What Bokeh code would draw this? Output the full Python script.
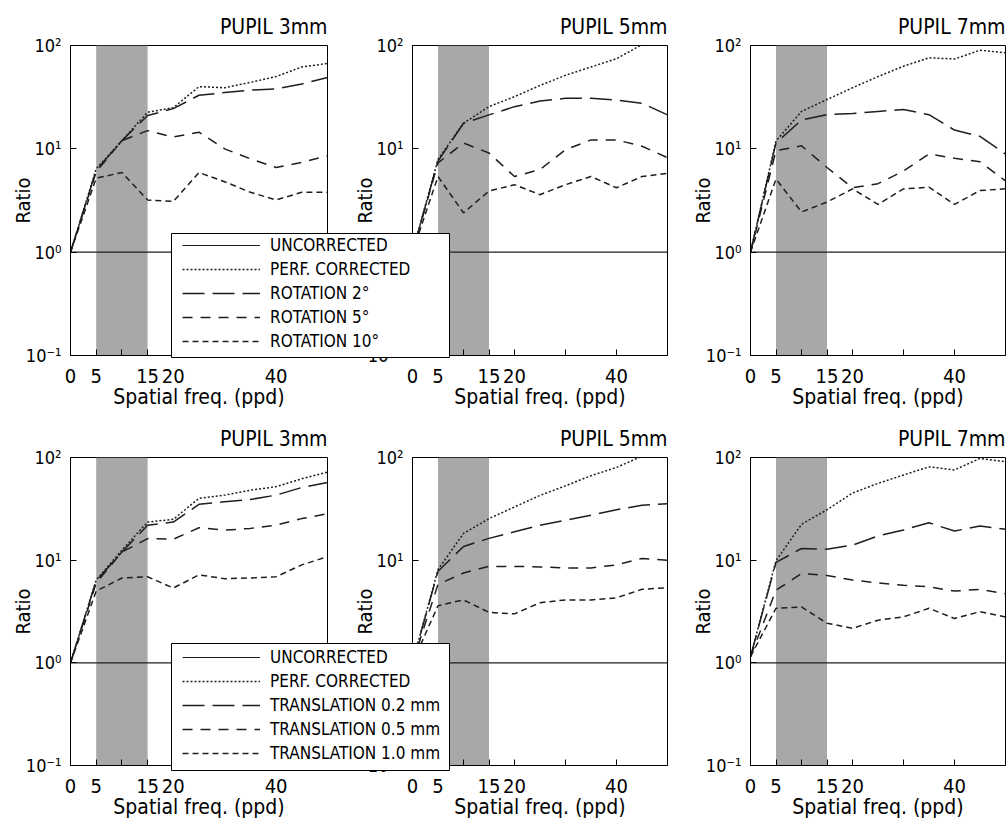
from bokeh.plotting import figure
from bokeh.models import Range1d, FixedTicker, BoxAnnotation, Legend, LegendItem
from bokeh.layouts import row, column
from bokeh.embed import file_html
from bokeh.resources import INLINE

# ---------------- data ----------------
freq = [0, 5, 10, 15, 20, 25, 30, 35, 40, 45, 50]
uncorr_freq = [0, 50]
uncorr_vals = [1, 1]

x_tick_vals = [0, 5, 10, 15, 20, 30, 40]
x_tick_labels = ["0", "5", "", "15", "20", "", "40"]
y_tick_vals = [0.1, 1, 10, 100]
y_tick_labels = ["10\u207b\u00b9", "10\u2070", "10\u00b9", "10\u00b2"]

band_lo, band_hi = 5, 15

titles_top = ["PUPIL 3mm", "PUPIL 5mm", "PUPIL 7mm"]
titles_bottom = ["PUPIL 3mm", "PUPIL 5mm", "PUPIL 7mm"]

labels_rot = ["UNCORRECTED", "PERF. CORRECTED", "ROTATION 2\u00b0", "ROTATION 5\u00b0", "ROTATION 10\u00b0"]
labels_tr = ["UNCORRECTED", "PERF. CORRECTED", "TRANSLATION 0.2 mm", "TRANSLATION 0.5 mm", "TRANSLATION 1.0 mm"]

# rotation, pupil 3 mm
rot_p3_perf = [1, 6.4, 12, 22.6, 25, 40, 39, 44, 50, 62, 67]
rot_p3_r2 = [1, 6.2, 12, 21, 24.5, 33, 35, 37, 38, 42.5, 49]
rot_p3_r5 = [1, 6.0, 12, 15, 13, 14.5, 10, 8, 6.6, 7.4, 8.6]
rot_p3_r10 = [1, 5.2, 5.9, 3.2, 3.1, 5.9, 4.8, 3.8, 3.2, 3.8, 3.8]
# rotation, pupil 5 mm
rot_p5_perf = [1, 7.9, 17.7, 25.6, 32, 41, 51.5, 62, 74.5, 102, 125]
rot_p5_r2 = [1, 7.6, 17.7, 21.3, 25.6, 29, 30.8, 30.8, 29.6, 27.6, 21.3]
rot_p5_r5 = [1, 7.3, 11.4, 9.1, 5.4, 6.3, 9.8, 12.2, 12.2, 10.6, 8.2]
rot_p5_r10 = [1, 5.4, 2.4, 3.9, 4.5, 3.6, 4.5, 5.4, 4.2, 5.4, 5.8]
# rotation, pupil 7 mm
rot_p7_perf = [1, 11.9, 23, 30, 39, 50, 63, 76, 74, 90, 85]
rot_p7_r2 = [1, 11.4, 19, 21.4, 22, 23, 24, 21.4, 15.2, 13.2, 8.9]
rot_p7_r5 = [1, 9.6, 10.7, 6.6, 4.2, 4.6, 6.1, 8.9, 8.1, 7.5, 4.9]
rot_p7_r10 = [1, 5.1, 2.45, 3.05, 4.1, 2.9, 4.1, 4.25, 2.9, 3.95, 4.1]

# translation, pupil 3 mm
tr_p3_perf = [1, 6.4, 12.5, 23.5, 25, 40, 43, 48, 52, 62, 72]
tr_p3_t02 = [1, 6.3, 12, 21.9, 23.5, 35, 37, 39, 43, 51, 57]
tr_p3_t05 = [1, 6.0, 12, 16.2, 16, 20.7, 19.6, 20.4, 21.9, 25.4, 28.3]
tr_p3_t10 = [1, 5.0, 6.7, 6.9, 5.35, 7.2, 6.6, 6.7, 6.9, 9.0, 10.8]
# translation, pupil 5 mm
tr_p5_perf = [1, 8.1, 18.2, 25.4, 33, 42.7, 53, 66.5, 80, 103, 120]
tr_p5_t02 = [1, 7.8, 13.6, 16.3, 18.9, 21.9, 24.5, 27.4, 31, 34.2, 35.5]
tr_p5_t05 = [1, 5.8, 7.5, 8.7, 8.7, 8.6, 8.4, 8.4, 9.0, 10.4, 10.0]
tr_p5_t10 = [1, 3.6, 4.1, 3.1, 3.0, 3.85, 4.1, 4.1, 4.3, 5.2, 5.4]
# translation, pupil 7 mm
tr_p7_perf = [1.15, 9.9, 22.3, 31, 45, 56, 67.6, 81, 75.6, 98, 91]
tr_p7_t02 = [1.15, 9.5, 13, 12.8, 14, 17.2, 19.7, 23.1, 19.2, 21.5, 20]
tr_p7_t05 = [1.15, 5.1, 7.4, 7.1, 6.4, 6.0, 5.7, 5.5, 5.0, 5.2, 4.7]
tr_p7_t10 = [1.15, 3.4, 3.5, 2.43, 2.17, 2.6, 2.8, 3.4, 2.7, 3.15, 2.8]

# ---------------- styling ----------------
FONT = "DejaVu Sans Condensed, Liberation Sans, sans-serif"
INK = "#1e1e1e"
DASHES = ["solid", "2 2", "22 8", "10 8", "6 4"]
WIDTHS = [1.2, 1.5, 1.5, 1.5, 1.5]
NAN = float("nan")


def make_panel(title, curves, width, height, bl, br, bt, bb):
    p = figure(width=width, height=height, x_range=Range1d(0, 50), y_range=Range1d(0.1, 100),
               y_axis_type="log", output_backend="svg", toolbar_location=None,
               min_border_left=bl, min_border_right=br, min_border_top=bt, min_border_bottom=bb,
               title=title)
    p.title.align = "right"
    p.title.text_font = FONT
    p.title.text_font_size = "21px"
    p.title.text_font_style = "normal"
    p.title.text_color = "black"
    p.title.standoff = 13
    p.grid.visible = False
    p.outline_line_color = "black"
    p.outline_line_alpha = 1
    p.background_fill_color = "white"
    p.border_fill_alpha = 0

    p.xaxis.ticker = FixedTicker(ticks=x_tick_vals)
    p.xaxis.major_label_overrides = {v: l for v, l in zip(x_tick_vals, x_tick_labels)}
    p.yaxis.ticker = FixedTicker(ticks=y_tick_vals)
    p.yaxis.major_label_overrides = {v: l for v, l in zip(y_tick_vals, y_tick_labels)}
    for ax in (p.xaxis[0], p.yaxis[0]):
        ax.axis_line_color = "black"
        ax.major_tick_in = 6
        ax.major_tick_out = 0
        ax.major_tick_line_color = "black"
        ax.minor_tick_line_color = None
        ax.major_label_text_font = FONT
        ax.major_label_text_color = "black"
        ax.axis_label_text_font = FONT
        ax.axis_label_text_font_style = "normal"
        ax.axis_label_text_color = "black"
    p.xaxis.major_label_text_font_size = "20px"
    p.xaxis.axis_label_text_font_size = "21px"
    p.xaxis.major_label_standoff = 13
    p.xaxis.axis_label_standoff = -1
    p.yaxis.major_label_text_font_size = "18px"
    p.yaxis.axis_label_text_font_size = "20px"
    p.yaxis.major_label_standoff = 9
    p.yaxis.axis_label_standoff = -12
    p.xaxis.axis_label = "Spatial freq. (ppd)"
    p.yaxis.axis_label = "Ratio"

    p.add_layout(BoxAnnotation(left=band_lo, right=band_hi, fill_color="#a8a8a8", fill_alpha=1,
                               line_color=None, level="underlay"))

    p.line(uncorr_freq, uncorr_vals, line_color=INK, line_width=WIDTHS[0])
    for vals, dash, w in zip(curves, DASHES[1:], WIDTHS[1:]):
        p.line(freq, vals, line_color=INK, line_width=w, line_dash=dash)
    return p


def make_legend_box(labels, width, height, loc):
    lf = figure(width=width, height=height, x_range=Range1d(0, 1), y_range=Range1d(0, 1),
                x_axis_location=None, y_axis_location=None, output_backend="svg",
                toolbar_location=None, min_border=1)
    lf.grid.visible = False
    lf.outline_line_color = "black"
    lf.background_fill_color = "white"
    lf.border_fill_alpha = 0
    rends = []
    for dash, w in zip(DASHES, WIDTHS):
        # legend-only renderers (no visible data)
        rends.append(lf.line(x=[NAN], y=[NAN], line_color=INK, line_width=w, line_dash=dash))
    items = [LegendItem(label=lab, renderers=[r]) for lab, r in zip(labels, rends)]
    lg = Legend(items=items, location=loc, margin=0, padding=0, spacing=0,
                glyph_width=78, glyph_height=24, label_height=24, label_standoff=10,
                border_line_color=None, background_fill_alpha=0,
                label_text_font=FONT, label_text_font_size="17px", label_text_color="black")
    lf.add_layout(lg)
    return lf


TOP_H, BOT_H = 413, 410
# canvases: left 0..340, middle 340..678, right 678..1006
p1 = make_panel(titles_top[0], [rot_p3_perf, rot_p3_r2, rot_p3_r5, rot_p3_r10], 340, TOP_H, 70, 13, 45, 58)
p2 = make_panel(titles_top[1], [rot_p5_perf, rot_p5_r2, rot_p5_r5, rot_p5_r10], 338, TOP_H, 72, 11, 45, 58)
p3 = make_panel(titles_top[2], [rot_p7_perf, rot_p7_r2, rot_p7_r5, rot_p7_r10], 328, TOP_H, 72, 1, 45, 58)
p4 = make_panel(titles_bottom[0], [tr_p3_perf, tr_p3_t02, tr_p3_t05, tr_p3_t10], 340, BOT_H, 70, 13, 44, 58)
p5 = make_panel(titles_bottom[1], [tr_p5_perf, tr_p5_t02, tr_p5_t05, tr_p5_t10], 338, BOT_H, 72, 11, 44, 58)
p6 = make_panel(titles_bottom[2], [tr_p7_perf, tr_p7_t02, tr_p7_t05, tr_p7_t10], 328, BOT_H, 72, 1, 44, 58)

leg1 = make_legend_box(labels_rot, 280, 126, (11, 4))
leg2 = make_legend_box(labels_tr, 280, 129, (11, 5))
# overlay the legend boxes across the left/middle panels
leg1.margin = (232 - TOP_H, 0, TOP_H - 358, 170)
leg2.margin = (642 - (TOP_H + BOT_H), 0, 19, 170)

layout = column(row(p1, p2, p3), leg1, row(p4, p5, p6), leg2)

open("out.html", "w").write(file_html(layout, INLINE))
